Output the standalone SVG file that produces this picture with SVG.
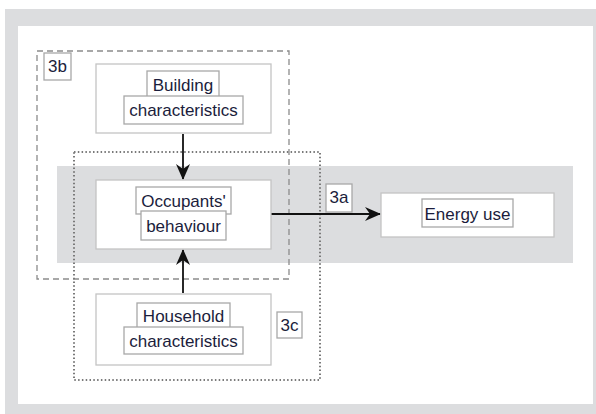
<svg xmlns="http://www.w3.org/2000/svg" width="596" height="414" viewBox="0 0 596 414">
  <defs>
    <marker id="arrow" viewBox="0 0 16 14" refX="15" refY="7" markerWidth="16" markerHeight="14" markerUnits="userSpaceOnUse" orient="auto">
      <path d="M0,0 L16,7 L0,14 L5,7 Z" fill="#111"/>
    </marker>
  </defs>
  <style>
    .node { fill: #ffffff; stroke: #c4c4c4; stroke-width: 1.3; }
    .tag { fill: #ffffff; stroke: #a8a8a8; stroke-width: 1.3; }
    .txt { font-family: "Liberation Sans", Arial, sans-serif; font-size: 17px; fill: #1b1d3c; text-anchor: middle; }
    .conn { stroke: #111; stroke-width: 1.8; fill: none; }
  </style>

  <!-- frame -->
  <rect x="0" y="0" width="596" height="414" fill="#ffffff"/>
  <rect x="5" y="9" width="591" height="405" fill="#dcdddf"/>
  <rect x="18" y="26" width="575" height="378" fill="#ffffff"/>

  <!-- central band -->
  <rect x="57" y="166" width="516" height="97" fill="#dcdddf"/>

  <!-- group outlines -->
  <rect id="group-3b" x="37" y="51" width="252" height="228" fill="none" stroke="#8c8c8c" stroke-width="1.3" stroke-dasharray="6,4"/>
  <rect id="group-3c" x="74" y="152" width="246" height="228" fill="none" stroke="#7a7a7a" stroke-width="2" stroke-dasharray="1.5,2.3"/>

  <!-- connectors -->
  <g id="connectors">
    <line class="conn" x1="183" y1="134" x2="183" y2="179" marker-end="url(#arrow)"/>
    <line class="conn" x1="183" y1="293" x2="183" y2="250" marker-end="url(#arrow)"/>
    <line class="conn" x1="271" y1="214" x2="380" y2="214" marker-end="url(#arrow)"/>
  </g>

  <!-- nodes -->
  <g id="building">
    <rect class="node" x="96" y="64" width="175" height="69"/>
    <rect class="tag" x="147" y="71" width="72" height="27"/>
    <text class="txt" x="183" y="91">Building</text>
    <rect class="tag" x="124" y="96" width="119" height="28"/>
    <text class="txt" x="183.5" y="116">characteristics</text>
  </g>

  <g id="occupants">
    <rect class="node" x="96" y="180" width="175" height="69"/>
    <rect class="tag" x="136" y="187" width="95" height="27"/>
    <text class="txt" x="183.5" y="207">Occupants'</text>
    <rect class="tag" x="141" y="211" width="85" height="29"/>
    <text class="txt" x="183.5" y="232">behaviour</text>
  </g>

  <g id="household">
    <rect class="node" x="96" y="294" width="175" height="71"/>
    <rect class="tag" x="137" y="303" width="93" height="26"/>
    <text class="txt" x="183.5" y="322">Household</text>
    <rect class="tag" x="124" y="327" width="119" height="27"/>
    <text class="txt" x="183.5" y="347">characteristics</text>
  </g>

  <g id="energy">
    <rect class="node" x="381" y="193" width="173" height="44"/>
    <rect class="tag" x="422" y="199" width="91" height="28"/>
    <text class="txt" x="467.5" y="220">Energy use</text>
  </g>

  <!-- group labels -->
  <g id="label-3b">
    <rect class="tag" x="44" y="53" width="27" height="27"/>
    <text class="txt" x="57.5" y="72">3b</text>
  </g>
  <g id="label-3a">
    <rect class="tag" x="326" y="184" width="26" height="28"/>
    <text class="txt" x="339" y="203">3a</text>
  </g>
  <g id="label-3c">
    <rect class="tag" x="277" y="312" width="25" height="26"/>
    <text class="txt" x="289.5" y="331">3c</text>
  </g>
</svg>
